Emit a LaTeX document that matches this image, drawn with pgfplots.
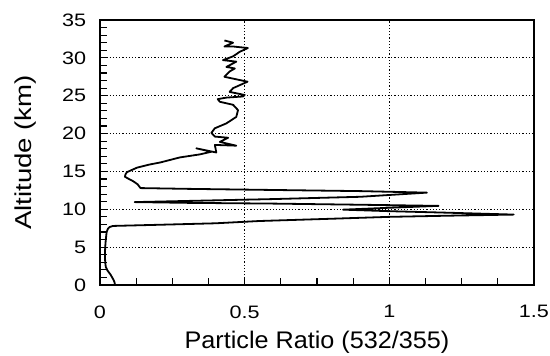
\documentclass[border=0pt]{standalone}
\usepackage{fontspec}
\setmainfont{Liberation Sans}
\usepackage{graphicx}
\usepackage{pgfplots}
\pgfplotsset{compat=1.18}
\begin{document}
\begin{tikzpicture}
\begin{axis}[
  scale only axis,
  width=434pt, height=265pt,
  xmin=0, xmax=1.5, ymin=0, ymax=35,
  xtick={0,0.5,1,1.5}, ytick={0,5,...,35},
  minor x tick num=3, minor y tick num=4,
  tick align=inside,
  xtick pos=bottom, ytick pos=left,
  major tick length=7pt, minor tick length=7pt,
  every tick/.style={black, line width=1.1pt},
  axis line style={line width=1.7pt},
  grid=major,
  major grid style={black, line width=1.2pt, dotted},
  /pgf/number format/assume math mode=true,
  tick label style={font=\fontsize{18}{18}\selectfont, xscale=1.2},
  xticklabel style={yshift=-17pt},
  yticklabel style={xshift=-8pt},
  xlabel={Particle Ratio (532/355)},
  ylabel={\scalebox{1.2}[1]{Altitude (km)}},
  xlabel style={font=\fontsize{24}{24}\selectfont, xscale=1.05, at={(axis description cs:0.5,-0.218)}, anchor=center},
  ylabel style={font=\fontsize{23}{23}\selectfont, at={(axis description cs:-0.172,0.5)}, anchor=center, rotate=0},
]
\addplot[black, line width=1.8pt, line join=round] coordinates {
(0.052,0) (0.05,0.4) (0.045,0.8) (0.036,1.4) (0.026,1.9) (0.02,2.4) (0.018,3) (0.017,4) (0.018,5) (0.02,6) (0.023,7) (0.027,7.4) (0.033,7.65) (0.045,7.8)
(0.2,7.95) (0.4,8.15) (0.55,8.45) (0.8,8.75) (1.0,9.0) (1.2,9.15) (1.43,9.3)
(1.2,9.55) (1.0,9.75) (0.84,9.95) (1.0,10.2) (1.17,10.45)
(0.9,10.6) (0.6,10.75) (0.3,10.85) (0.12,10.95)
(0.3,11.1) (0.6,11.35) (0.9,11.65) (1.13,12.2)
(0.9,12.4) (0.6,12.55) (0.3,12.7) (0.14,12.8) (0.13,13.3) (0.115,13.7) (0.1,14.0) (0.086,14.3) (0.088,14.6) (0.093,14.9)
(0.128,15.5) (0.17,15.9) (0.21,16.2) (0.276,16.85) (0.345,17.25) (0.385,17.6) (0.333,18.05) (0.402,17.5) (0.397,18.5)
(0.471,18.4) (0.414,18.9) (0.443,19.45) (0.397,19.6) (0.385,20.1) (0.397,20.7) (0.437,21.35) (0.471,22.2)
(0.477,23.1) (0.46,23.8) (0.414,24.2) (0.407,24.55) (0.437,24.75) (0.494,24.9) (0.5,25.1) (0.448,25.5)
(0.46,26.0) (0.51,26.85) (0.43,27.5) (0.448,28.2) (0.466,28.6) (0.437,28.8) (0.471,29.5) (0.425,29.7)
(0.46,30.2) (0.483,30.8) (0.511,31.3) (0.46,31.5) (0.43,31.5) (0.46,32.0) (0.43,32.3)
};
\end{axis}
\pgfresetboundingbox
\path[use as bounding box] (-100pt,-71pt) rectangle (450pt,285pt);
\end{tikzpicture}
\end{document}
